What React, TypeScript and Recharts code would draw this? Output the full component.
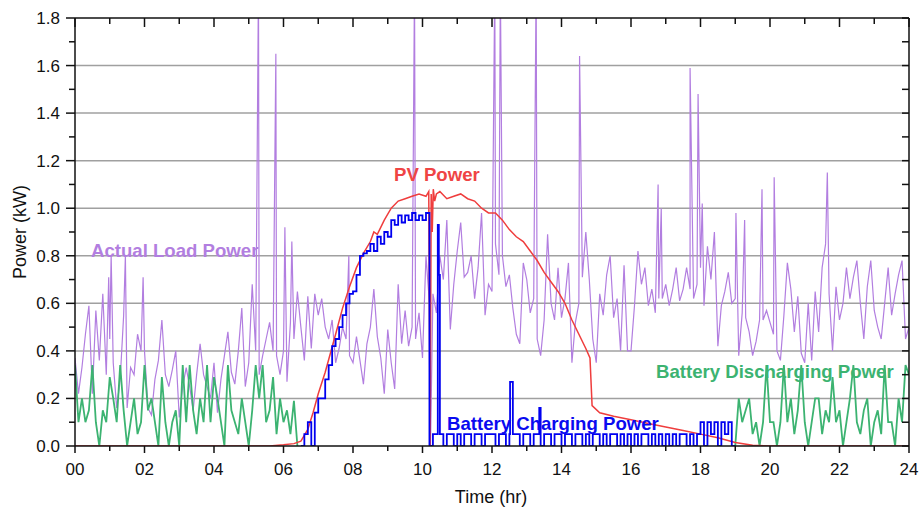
import { CartesianGrid, Line, LineChart, XAxis, YAxis } from "recharts";

// hours 0..24, labels on even hours
const hourTicks = [0, 1, 2, 3, 4, 5, 6, 7, 8, 9, 10, 11, 12, 13, 14, 15, 16, 17, 18, 19, 20, 21, 22, 23, 24];
const powerTicks = [0, 0.1, 0.2, 0.3, 0.4, 0.5, 0.6, 0.7, 0.8, 0.9, 1, 1.1, 1.2, 1.3, 1.4, 1.5, 1.6, 1.7, 1.8];
const gridValues = [0.2, 0.4, 0.6, 0.8, 1, 1.2, 1.4, 1.6];

// actual load power, one value every 0.1 hr (00:00 .. 24:00)
const loadValues = [
  0.37, 0.22, 0.33, 0.47, 0.59, 0.22, 0.57, 0.36, 0.64, 0.3,
  0.45, 0.35, 0.16, 0.28, 0.55, 0.16, 0.33, 0.3, 0.47, 0.4,
  0.4, 0.16, 0.13, 0.28, 0.36, 0.53, 0.3, 0.25, 0.32, 0.4,
  0.12, 0.25, 0.33, 0.25, 0.15, 0.3, 0.43, 0.3, 0.25, 0.2,
  0.35, 0.14, 0.28, 0.38, 0.48, 0.31, 0.26, 0.4, 0.58, 0.25,
  0.35, 0.68, 0.4, 0.3, 0.38, 0.45, 0.52, 0.4, 0.38, 0.3,
  0.4, 0.27, 0.52, 0.45, 0.65, 0.5, 0.36, 0.63, 0.41, 0.64,
  0.55, 0.62, 0.5, 0.45, 0.53, 0.35, 0.41, 0.5, 0.45, 0.38,
  0.35, 0.46, 0.36, 0.26, 0.43, 0.5, 0.66, 0.46, 0.37, 0.22,
  0.49, 0.35, 0.24, 0.68, 0.43, 0.57, 0.42, 0.5, 0.45, 0.56,
  0.37, 0.8, 0.6, 0.64, 0.56, 0.8, 0.7, 0.95, 0.49, 0.68,
  0.82, 0.94, 0.71, 0.73, 0.8, 0.62, 0.75, 0.98, 0.55, 0.68,
  0.65, 0.85, 0.72, 0.8, 0.67, 0.72, 0.58, 0.47, 0.43, 0.77,
  0.7, 0.56, 0.62, 0.45, 0.38, 0.53, 0.89, 0.6, 0.53, 0.75,
  0.54, 0.62, 0.77, 0.35, 0.52, 0.6, 0.71, 0.9, 0.7, 0.45,
  0.35, 0.64, 0.55, 0.72, 0.8, 0.54, 0.62, 0.4, 0.76, 0.4,
  0.4, 0.59, 0.82, 0.68, 0.75, 0.59, 0.66, 0.56, 0.62, 0.62,
  0.68, 0.59, 0.66, 0.75, 0.61, 0.66, 0.75, 0.66, 0.62, 0.68,
  0.75, 0.59, 0.84, 0.7, 0.9, 0.42, 0.59, 0.65, 0.73, 0.6,
  0.62, 0.38, 0.56, 0.54, 0.48, 0.38, 0.44, 0.53, 0.53, 0.57,
  0.52, 0.47, 0.4, 0.36, 0.55, 0.77, 0.66, 0.48, 0.63, 0.39,
  0.35, 0.6, 0.36, 0.65, 0.48, 0.75, 0.85, 0.64, 0.4, 0.67,
  0.53, 0.6, 0.75, 0.62, 0.71, 0.78, 0.6, 0.45, 0.67, 0.78,
  0.57, 0.5, 0.45, 0.6, 0.75, 0.55, 0.64, 0.72, 0.78, 0.45,
  0.5,
];

// short load peaks between the 0.1 hr samples [hour, kW]
const loadSpikes = [
  [0.97, 0.71], [1.04, 0.8], [1.45, 0.8], [1.96, 0.71], [5.28, 1.95], [5.78, 1.65],
  [6.04, 0.92], [6.24, 0.86], [7.88, 0.8], [9.77, 1.95], [10.23, 0], [12.08, 1.95],
  [12.24, 1.95], [13.27, 1.95], [14.52, 1.64], [16.78, 1.1], [16.87, 1.0], [17.7, 1.59],
  [17.93, 1.48], [18.05, 1.02], [19.02, 0.98], [19.27, 0.95], [19.77, 1.08], [20.12, 1.13],
  [21.65, 1.15],
];

// PV power
const pvTimes = [
  0, 5.6, 6.0, 6.3, 6.5, 6.7, 6.85, 7.0, 7.2, 7.35, 7.5, 7.7, 7.9, 8.1, 8.3, 8.5, 8.6, 8.7,
  8.9, 9.1, 9.3, 9.5, 9.7, 9.9, 10.1, 10.18, 10.22, 10.25, 10.28, 10.31, 10.35, 10.4, 10.5,
  10.7, 10.9, 11.1, 11.3, 11.5, 11.7, 11.9, 12.1, 12.3, 12.5, 12.7, 12.9, 13.1, 13.3, 13.5,
  13.7, 13.9, 14.1, 14.3, 14.5, 14.7, 14.82, 14.88, 15.1, 15.5, 16.0, 16.5, 17.0, 17.5, 18.0,
  18.5, 19.0, 19.5, 20.0, 24.0,
];
const pvValues = [
  0, 0, 0.005, 0.01, 0.02, 0.07, 0.14, 0.22, 0.31, 0.39, 0.47, 0.58, 0.67, 0.75, 0.81, 0.86, 0.9, 0.89,
  0.95, 1.0, 1.03, 1.04, 1.05, 1.06, 1.05, 1.07, 0.0, 1.06, 0.9, 1.08, 1.03, 1.06, 1.07,
  1.04, 1.05, 1.06, 1.04, 1.03, 1.0, 0.98, 0.98, 0.95, 0.91, 0.88, 0.86, 0.82, 0.78, 0.73,
  0.69, 0.65, 0.6, 0.53, 0.47, 0.41, 0.37, 0.17, 0.14, 0.125, 0.11, 0.095, 0.08, 0.065, 0.05,
  0.035, 0.015, 0.003, 0, 0,
];

// battery charging power, every 0.1 hr from 06:30 to 19:00
const chargeValues = [
  0, 0.05, 0.1, 0, 0.14,
  0.2, 0.2, 0.28, 0.34, 0.42, 0.45, 0.5, 0.55, 0.6, 0.64,
  0.65, 0.72, 0.8, 0.81, 0.82, 0.85, 0.82, 0.88, 0.85, 0.9,
  0.88, 0.95, 0.93, 0.97, 0.94, 0.97, 0.95, 0.98, 0.95, 0.97,
  0.95, 0.98, 0, 0.05, 0.05, 0.05, 0, 0.05, 0.05, 0,
  0.05, 0, 0.05, 0.05, 0, 0.05, 0.05, 0, 0.05, 0.05,
  0.05, 0, 0.05, 0.05, 0, 0.05, 0.05, 0.05, 0, 0.05,
  0.05, 0, 0.05, 0.05, 0, 0.05, 0.05, 0, 0.05, 0.05,
  0, 0.05, 0.05, 0, 0.05, 0.05, 0, 0.05, 0, 0.05,
  0.05, 0, 0.05, 0, 0.05, 0.05, 0, 0.05, 0, 0.05,
  0, 0.05, 0, 0.05, 0.05, 0, 0.05, 0, 0.05, 0,
  0.05, 0, 0.05, 0, 0.05, 0.05, 0, 0.05, 0, 0.05,
  0.1, 0, 0.1, 0.05, 0.1, 0, 0.1, 0.05, 0.1, 0,
  0,
];
const chargeSpikes = [[10.44, 0.93], [10.47, 0.72], [12.52, 0.27], [13.36, 0.16]];

// battery discharging power, every 0.1 hr: 00:00-06:40 and 19:00-24:00
const dischargeMorning = [
  0.34, 0.1, 0.2, 0.1, 0.15, 0.34, 0.1, 0, 0.15, 0.1,
  0.29, 0.2, 0.1, 0.34, 0.15, 0, 0.1, 0.2, 0.05, 0.1,
  0.34, 0.15, 0.2, 0.1, 0, 0.29, 0.1, 0, 0.1, 0.15,
  0, 0.34, 0.1, 0.34, 0.15, 0.05, 0.2, 0.1, 0.34, 0.1,
  0.29, 0.2, 0.1, 0, 0.34, 0.15, 0.1, 0.05, 0.2, 0.1,
  0, 0.15, 0.34, 0.2, 0.34, 0.1, 0.15, 0.29, 0.05, 0.2,
  0.1, 0.15, 0.05, 0.19, 0,
];
const dischargeEvening = [
  0, 0.2, 0.1, 0.15, 0.2, 0.05, 0.1, 0, 0.1, 0.34,
  0.1, 0.1, 0, 0.1, 0.34, 0.1, 0.2, 0.05, 0.15, 0.34,
  0.1, 0, 0.1, 0.2, 0.2, 0.05, 0.15, 0.1, 0.29, 0.1,
  0.15, 0, 0.1, 0.2, 0.34, 0.1, 0.05, 0.15, 0.2, 0,
  0.1, 0.15, 0.05, 0.34, 0.1, 0.1, 0, 0.2, 0.1, 0.34,
  0.3,
];

const byTime = (a: { t: number }, b: { t: number }) => a.t - b.t;

const loadData = [
  ...loadValues.map((v, i) => ({ t: i / 10, v })),
  ...loadSpikes.map(([t, v]) => ({ t, v })),
].sort(byTime);
const pvData = pvTimes.map((t, i) => ({ t, v: pvValues[i] }));
const chargeData = [
  ...chargeValues.map((v, i) => ({ t: (65 + i) / 10, v })),
  ...chargeSpikes.map(([t, v]) => ({ t, v })),
].sort(byTime);
const morningData = dischargeMorning.map((v, i) => ({ t: i / 10, v }));
const eveningData = dischargeEvening.map((v, i) => ({ t: (190 + i) / 10, v }));

const FONT = "'Liberation Sans', Arial, Helvetica, sans-serif";
const AXIS = "#111";

const BottomTick = (props: any) => {
  const { x, y, payload } = props;
  const major = payload.value % 2 === 0;
  return (
    <g>
      <line x1={x} y1={y} x2={x} y2={y + (major ? 7 : 5)} stroke={AXIS} strokeWidth={1.5} />
      {major && (
        <text x={x} y={y + 29} textAnchor="middle" fontSize={17} fontFamily={FONT} fill="#111">
          {String(payload.value).padStart(2, "0")}
        </text>
      )}
    </g>
  );
};

const TopTick = (props: any) => {
  const { x, y, payload } = props;
  const major = payload.value % 2 === 0;
  return <line x1={x} y1={y} x2={x} y2={y + (major ? 9 : 6)} stroke={AXIS} strokeWidth={1.5} />;
};

const LeftTick = (props: any) => {
  const { x, y, payload } = props;
  const major = Math.round(payload.value * 10) % 2 === 0;
  return (
    <g>
      <line x1={x - (major ? 9 : 6)} y1={y} x2={x} y2={y} stroke={AXIS} strokeWidth={1.5} />
      {major && (
        <text x={x - 15} y={y + 6} textAnchor="end" fontSize={17} fontFamily={FONT} fill="#111">
          {payload.value.toFixed(1)}
        </text>
      )}
    </g>
  );
};

const RightTick = (props: any) => {
  const { x, y } = props;
  return <line x1={x - 7} y1={y} x2={x} y2={y} stroke={AXIS} strokeWidth={1.5} />;
};

const label = (color: string) => ({
  position: "absolute" as const,
  fontFamily: FONT,
  fontWeight: 700,
  fontSize: 18.6,
  lineHeight: "18px",
  color,
  whiteSpace: "nowrap" as const,
});

export default function App() {
  return (
    <div style={{ position: "absolute", left: 0, top: 0, width: 923, height: 510, background: "#fff" }}>
      <LineChart width={923} height={510} margin={{ top: 16, right: 0, bottom: 0, left: 0 }}>
        <CartesianGrid vertical={false} horizontalValues={gridValues} stroke="#a0a0a0" strokeWidth={1.5} />
        <XAxis
          dataKey="t"
          type="number"
          domain={[0, 24]}
          ticks={hourTicks}
          interval={0}
          allowDataOverflow
          height={64}
          tickSize={0}
          tickMargin={0}
          tickLine={false}
          tick={<BottomTick />}
          stroke={AXIS}
          strokeWidth={1.5}
        />
        <XAxis
          xAxisId="top"
          orientation="top"
          dataKey="t"
          type="number"
          domain={[0, 24]}
          ticks={hourTicks}
          interval={0}
          allowDataOverflow
          height={2}
          tickSize={0}
          tickMargin={0}
          tickLine={false}
          tick={<TopTick />}
          stroke={AXIS}
          strokeWidth={1.5}
        />
        <YAxis
          type="number"
          domain={[0, 1.8]}
          ticks={powerTicks}
          interval={0}
          allowDataOverflow
          width={75}
          tickSize={0}
          tickMargin={0}
          tickLine={false}
          tick={<LeftTick />}
          stroke={AXIS}
          strokeWidth={1.5}
        />
        <YAxis
          yAxisId="right"
          orientation="right"
          type="number"
          domain={[0, 1.8]}
          ticks={powerTicks}
          interval={0}
          allowDataOverflow
          width={14}
          tickSize={0}
          tickMargin={0}
          tickLine={false}
          tick={<RightTick />}
          stroke={AXIS}
          strokeWidth={1.5}
        />
        <Line data={loadData} dataKey="v" stroke="#b27ee0" strokeWidth={1.2} dot={false} isAnimationActive={false} />
        <Line data={morningData} dataKey="v" stroke="#3cb371" strokeWidth={1.8} dot={false} isAnimationActive={false} />
        <Line data={eveningData} dataKey="v" stroke="#3cb371" strokeWidth={1.8} dot={false} isAnimationActive={false} />
        <Line data={pvData} dataKey="v" stroke="#ef3d3d" strokeWidth={1.5} dot={false} isAnimationActive={false} />
        <Line
          data={chargeData}
          dataKey="v"
          type="stepAfter"
          stroke="#0000f0"
          strokeWidth={1.8}
          dot={false}
          isAnimationActive={false}
        />
      </LineChart>

      <div style={{ ...label("#b27ee0"), left: 91, top: 242 }}>Actual Load Power</div>
      <div style={{ ...label("#ef4444"), left: 394, top: 166 }}>PV Power</div>
      <div style={{ ...label("#0a0af0"), left: 447, top: 415 }}>Battery Charging Power</div>
      <div style={{ ...label("#3cb371"), left: 656, top: 363 }}>Battery Discharging Power</div>

      <div
        style={{
          position: "absolute",
          left: 20,
          top: 232,
          fontFamily: FONT,
          fontSize: 18,
          lineHeight: "18px",
          whiteSpace: "nowrap",
          color: "#111",
          transform: "translate(-50%, -50%) rotate(-90deg)",
        }}
      >
        Power (kW)
      </div>
      <div
        style={{
          position: "absolute",
          left: 491,
          top: 497,
          fontFamily: FONT,
          fontSize: 18,
          lineHeight: "18px",
          whiteSpace: "nowrap",
          color: "#111",
          transform: "translate(-50%, -50%)",
        }}
      >
        Time (hr)
      </div>
    </div>
  );
}
